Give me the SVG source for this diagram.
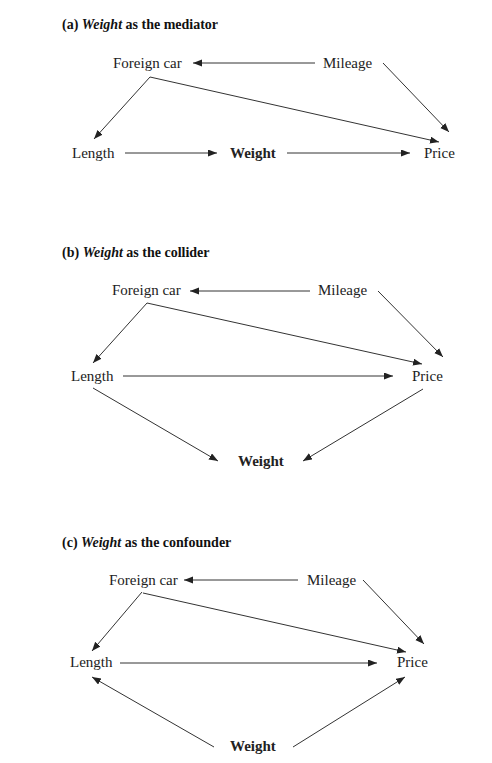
<svg xmlns="http://www.w3.org/2000/svg" width="492" height="763" viewBox="0 0 492 763">
<style>
  .t { font-family: "Liberation Serif", "Times New Roman", serif; font-size: 15px; fill: #222; }
  .b { font-weight: bold; }
  .title { font-family: "Liberation Serif", "Times New Roman", serif; font-size: 14px; font-weight: bold; fill: #111; }
  .e { stroke: #333; stroke-width: 1; fill: none; marker-end: url(#ah); }
</style>
<defs>
  <marker id="ah" markerUnits="userSpaceOnUse" markerWidth="10" markerHeight="8" refX="9" refY="3.5" orient="auto">
    <path d="M0,0 L9,3.5 L0,7 Z" fill="#222"/>
  </marker>
</defs>
<rect width="492" height="763" fill="#fff"/>

<text class="title" x="62" y="29">(a) <tspan font-style="italic">Weight</tspan> as the mediator</text>
<text class="title" x="62" y="257">(b) <tspan font-style="italic">Weight</tspan> as the collider</text>
<text class="title" x="62" y="547">(c) <tspan font-style="italic">Weight</tspan> as the confounder</text>

<g id="a-foreign"><text class="t" x="113" y="68">Foreign car</text></g>
<g id="a-mileage"><text class="t" x="323" y="68">Mileage</text></g>
<g id="a-length"><text class="t" x="72" y="158">Length</text></g>
<g id="a-weight"><text class="t b" x="230" y="158">Weight</text></g>
<g id="a-price"><text class="t" x="424" y="158">Price</text></g>

<g id="b-foreign"><text class="t" x="112" y="295">Foreign car</text></g>
<g id="b-mileage"><text class="t" x="318" y="295">Mileage</text></g>
<g id="b-length"><text class="t" x="71" y="381">Length</text></g>
<g id="b-price"><text class="t" x="412" y="381">Price</text></g>
<g id="b-weight"><text class="t b" x="238" y="466">Weight</text></g>

<g id="c-foreign"><text class="t" x="109" y="585">Foreign car</text></g>
<g id="c-mileage"><text class="t" x="307" y="585">Mileage</text></g>
<g id="c-length"><text class="t" x="70" y="667">Length</text></g>
<g id="c-price"><text class="t" x="397" y="667">Price</text></g>
<g id="c-weight"><text class="t b" x="230" y="751">Weight</text></g>

<g id="connectors">
  <path class="e" d="M315,63 L193,63"/>
  <path class="e" d="M383,63 L449,132"/>
  <path class="e" d="M150,77 L439,142"/>
  <path class="e" d="M150,77 L94,139"/>
  <path class="e" d="M125,153 L217,153"/>
  <path class="e" d="M287,153 L410,153"/>

  <path class="e" d="M310,291 L190,291"/>
  <path class="e" d="M378,291 L443,357"/>
  <path class="e" d="M147,303 L422,364"/>
  <path class="e" d="M147,303 L93,363"/>
  <path class="e" d="M123,376 L393,376"/>
  <path class="e" d="M93,388 L218,461"/>
  <path class="e" d="M423,389 L303,461"/>

  <path class="e" d="M298,580 L184,580"/>
  <path class="e" d="M363,580 L424,644"/>
  <path class="e" d="M143,593 L406,652"/>
  <path class="e" d="M142,592 L92,651"/>
  <path class="e" d="M120,663 L377,663"/>
  <path class="e" d="M293,747 L405,677"/>
  <path class="e" d="M214,747 L92,677"/>
</g>
</svg>
